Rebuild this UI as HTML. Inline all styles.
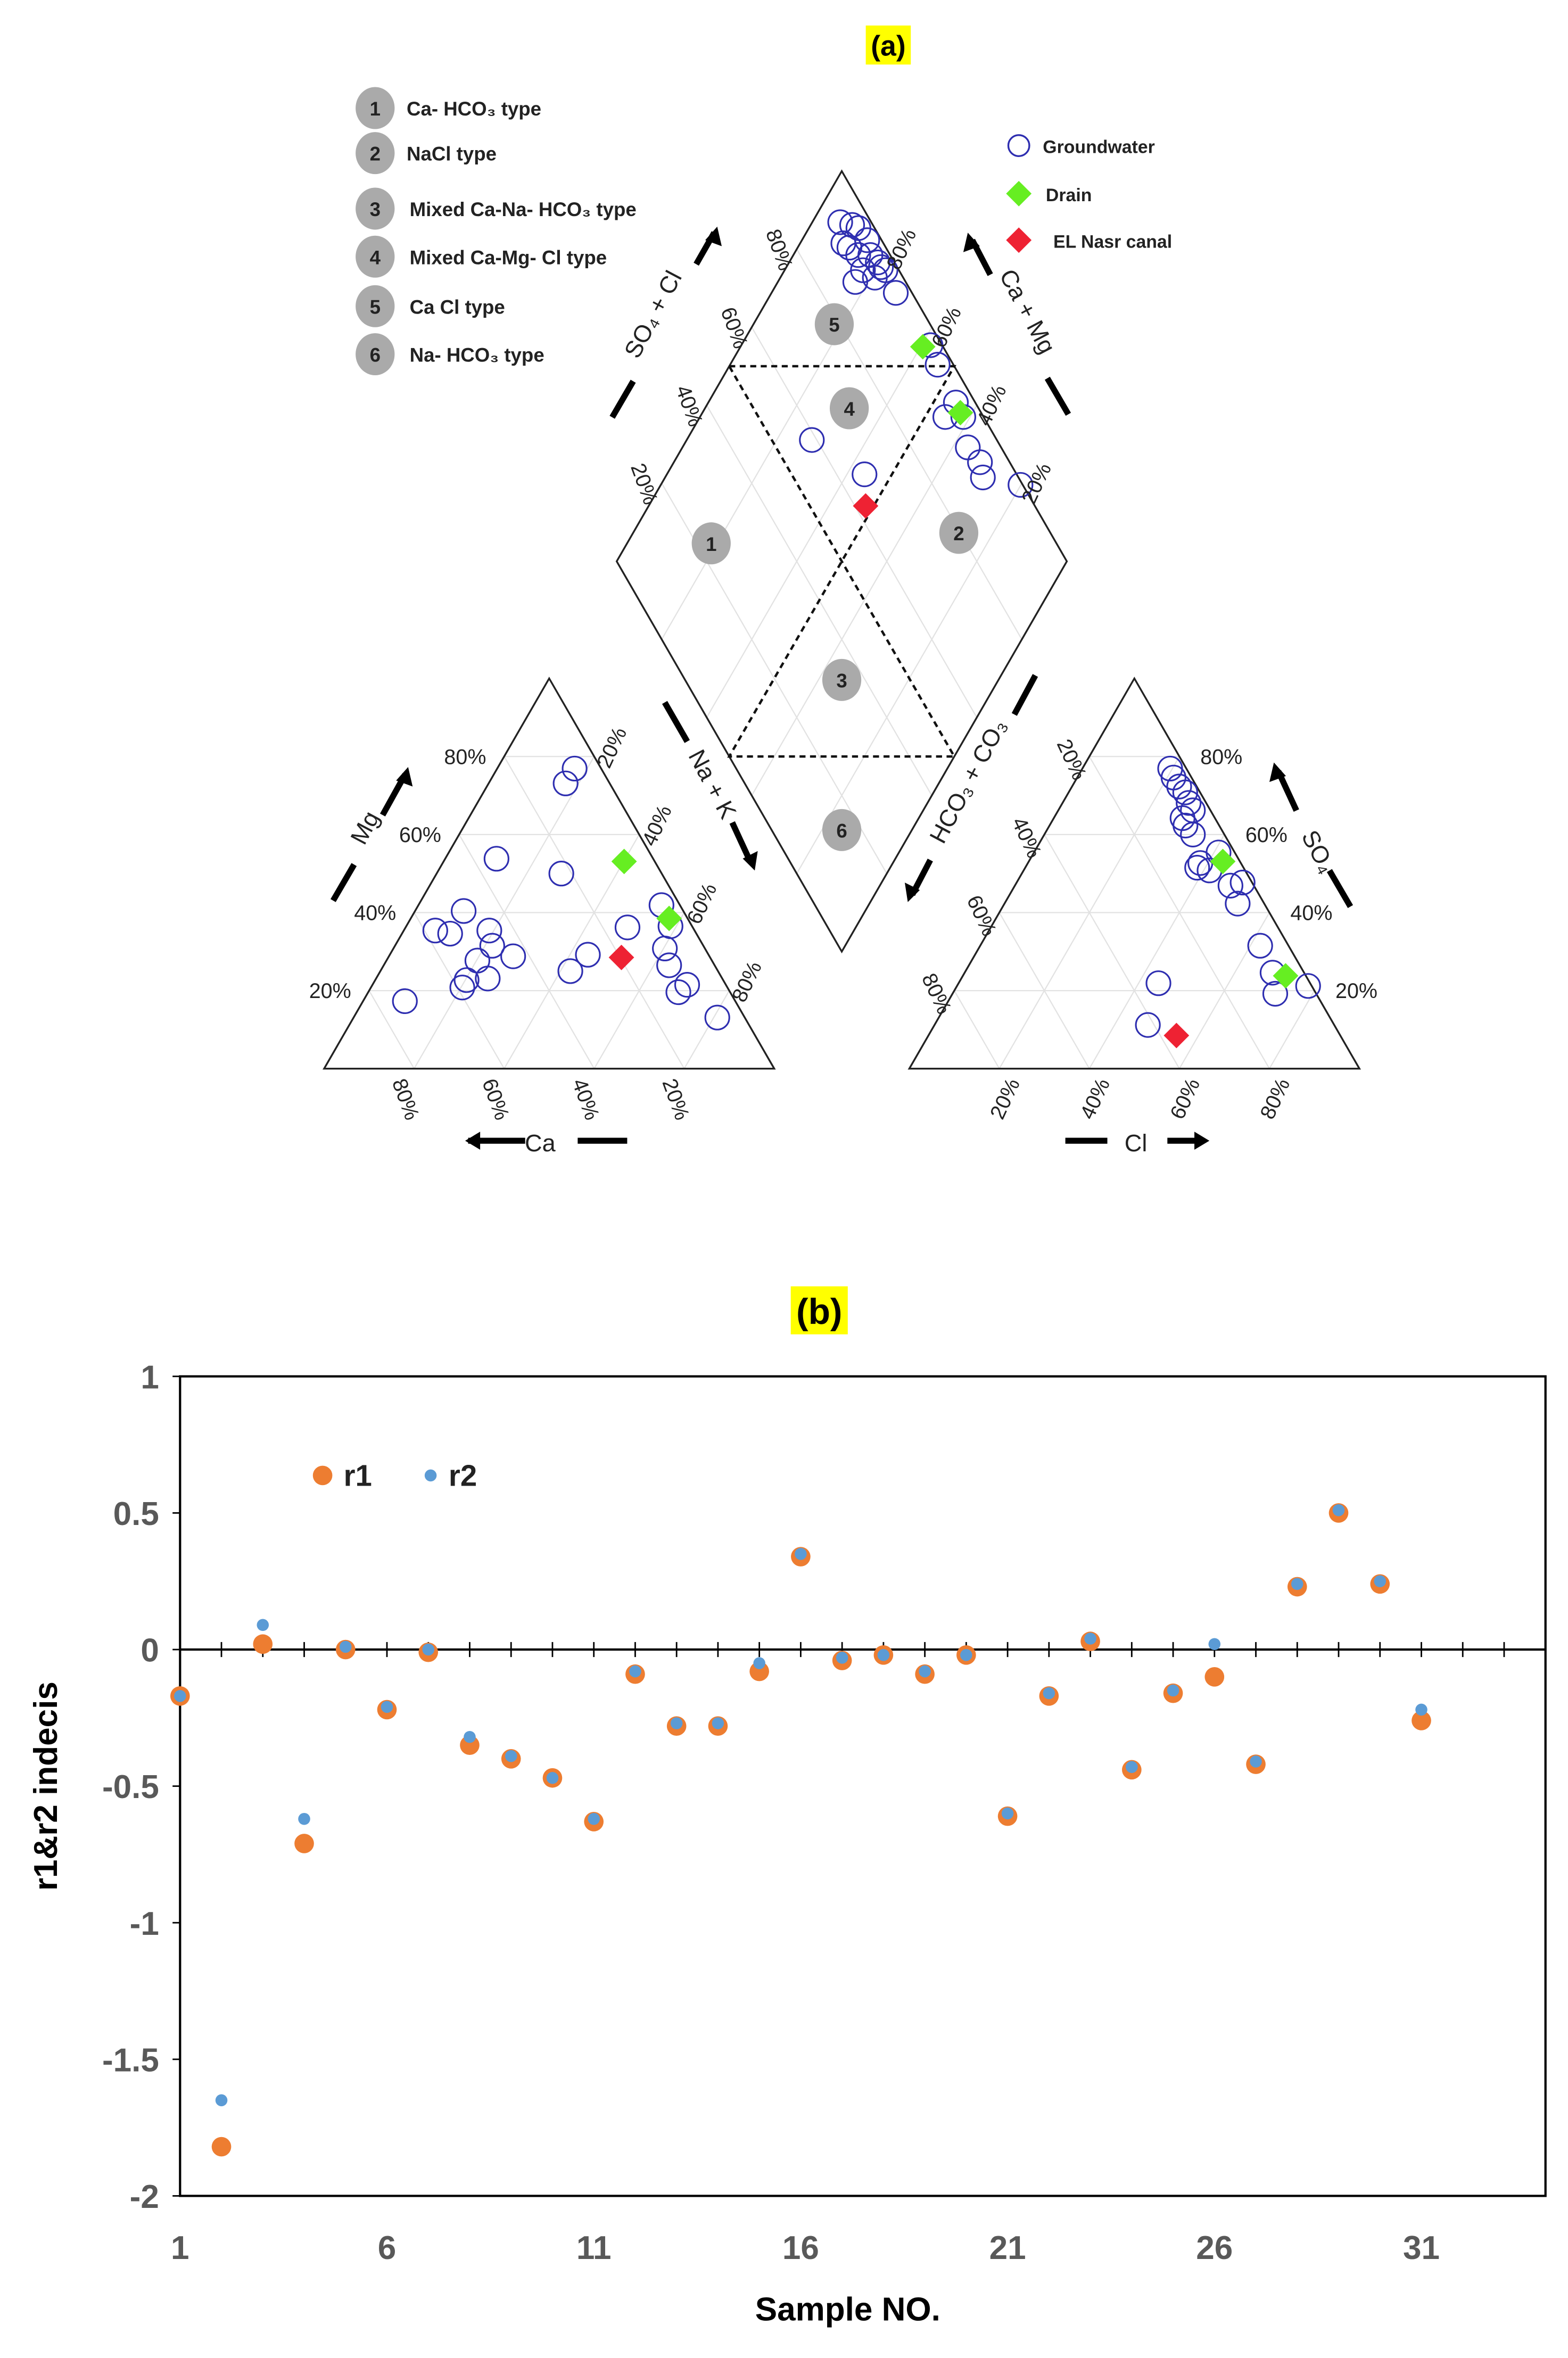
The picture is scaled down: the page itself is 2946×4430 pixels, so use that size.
<!DOCTYPE html>
<html><head><meta charset="utf-8"><style>
html,body{margin:0;padding:0;background:#fff}
svg{display:block}
text{font-family:"Liberation Sans",sans-serif}
</style></head><body>
<svg id="root" width="2946" height="4430" viewBox="0 0 1045 1571" preserveAspectRatio="none" xmlns="http://www.w3.org/2000/svg">
<g id="piper"></g>
<g id="scatter"></g>
</svg>
<script>
// ---------- Piper data ----------
const catNa = [17.2,17.1,11.4,27.7,7,10.8,10.7,19,21.6,27.6,20.2,20.3,24.8,20.3,9.3,42.2,44,49.3,54,58.7,60.3,63.4,69.9,68.9,80.8];
const catMg = [76.9,73.1,53.8,50,35.4,40.4,34.6,35.4,31.5,28.8,27.7,22.7,23.1,20.8,17.3,25,29.2,36.2,41.9,36.5,30.8,26.5,21.5,19.6,13.1];
const anCl = [19.5,21.4,23.8,25.9,28,29.9,28.6,30.2,33,38.3,41.3,38.2,41,47.9,50.2,51.8,62.2,68.4,78,71.7,44.4,47.4];
const anSO4 = [76.9,74.6,72.3,70.8,68.1,66.2,64.2,62.3,60,52.7,50.8,51.5,55.4,46.9,47.7,42.3,31.5,24.6,21.2,19.2,21.9,11.2];
const dNa = [6.2,9.2,11,14.5,11.5,17.1,19.7,17.4,22.4,21,17.2,27.6,21,14.4,9.6,42,46.1,55,58.5,54.5,63.4,68,70.6,79.9,27.8,43.9];
const dA = [93.1,95.4,96.4,96.8,91.9,95.6,96.3,92,97,93.7,88.8,96.4,96.4,92.9,91.1,97.4,96.5,95.7,95.5,91.5,92.6,93.4,92.1,99.5,58.9,66.2];
const drainCatNa=[40.1,57.4], drainCatMg=[53.1,38.5];
const drainAnCl=[43.1,71.7], drainAnSO4=[53.1,23.8];
const drainDNa=[40.5,57.3], drainDA=[95.5,95.4];
const canalCatNa=[51.8], canalCatMg=[28.5];
const canalAnCl=[55.1], canalAnSO4=[8.5];
const canalDNa=[48.2], canalDA=[62.4];
const typeLabels = ["Ca- HCO\u2083 type","NaCl  type","Mixed Ca-Na- HCO\u2083 type","Mixed Ca-Mg- Cl type","Ca Cl type","Na- HCO\u2083 type"];
const pctLabels = ["20%","40%","60%","80%"];
// ---------- Chart (b) data ----------
const sampleNo = [1,2,3,4,5,6,7,8,9,10,11,12,13,14,15,16,17,18,19,20,21,22,23,24,25,26,27,28,29,30,31];
const r1 = [-0.17,-1.82,0.02,-0.71,0.00,-0.22,-0.01,-0.35,-0.40,-0.47,-0.63,-0.09,-0.28,-0.28,-0.08,0.34,-0.04,-0.02,-0.09,-0.02,-0.61,-0.17,0.03,-0.44,-0.16,-0.10,-0.42,0.23,0.50,0.24,-0.26];
const r2 = [-0.17,-1.65,0.09,-0.62,0.01,-0.21,0.00,-0.32,-0.39,-0.47,-0.62,-0.08,-0.27,-0.27,-0.05,0.35,-0.03,-0.02,-0.08,-0.02,-0.60,-0.16,0.04,-0.43,-0.15,0.02,-0.41,0.24,0.51,0.25,-0.22];
const yTicks = [1,0.5,0,-0.5,-1,-1.5,-2];
const xTicks = [1,6,11,16,21,26,31];

const NS="http://www.w3.org/2000/svg";
function mk(parent,tag,attrs,txt){const e=document.createElementNS(NS,tag);for(const k in attrs)e.setAttribute(k,attrs[k]);if(txt!==undefined)e.textContent=txt;parent.appendChild(e);return e;}

const P=document.getElementById('piper');
function catXY(na,mg){return [216+3*na+1.5*mg,712-2.6*mg];}
function anXY(cl,s){return [606+3*cl+1.5*s,712-2.6*s];}
function dXY(na,a){return [411+1.5*(na+a),374+2.6*(na-a)];}

const grid=mk(P,'g',{stroke:'#e2e2e2','stroke-width':0.8,fill:'none'});


for(let i=1;i<5;i++){const f=i*20;
 [[catXY,0],[anXY,1]].forEach(([fn])=>{
  let a=fn(0,f),b=fn(100-f,f); mk(grid,'line',{x1:a[0],y1:a[1],x2:b[0],y2:b[1]});
  a=fn(f,0);b=fn(f,100-f); mk(grid,'line',{x1:a[0],y1:a[1],x2:b[0],y2:b[1]});
  a=fn(0,100-f);b=fn(100-f,0); mk(grid,'line',{x1:a[0],y1:a[1],x2:b[0],y2:b[1]});
 });
 let a=dXY(f,0),b=dXY(f,100); mk(grid,'line',{x1:a[0],y1:a[1],x2:b[0],y2:b[1]});
 a=dXY(0,f);b=dXY(100,f); mk(grid,'line',{x1:a[0],y1:a[1],x2:b[0],y2:b[1]});
}
const ol=mk(P,'g',{stroke:'#222','stroke-width':1.2,fill:'none'});
const t1=mk(ol,'polygon',{points:'216,712 366,452 516,712'});

const t2=mk(ol,'polygon',{points:'606,712 756,452 906,712'});

const dm=mk(ol,'polygon',{points:'411,374 561,114 711,374 561,634'});

const ds=mk(P,'path',{d:'M486,244 L636,244 L486,504 L636,504 Z',stroke:'#111','stroke-width':1.6,'stroke-dasharray':'4,3',fill:'none'});


function badge(x,y,n,name){const g=mk(P,'g',{});
 
 mk(g,'ellipse',{cx:x,cy:y,rx:13,ry:14,fill:'#aaa'});
 mk(g,'text',{x:x,y:y+5,'text-anchor':'middle','font-size':13,'font-weight':'bold',fill:'#222'},n);}
[[556,216,5],[566,272,4],[474,362,1],[639,355,2],[561,453,3],[561,553,6]].forEach(b=>badge(b[0],b[1],b[2],'region-badge-'+b[2]));
const legY=[72,102,139,171,204,236];
typeLabels.forEach((t,i)=>{badge(250,legY[i],i+1,'type-legend-badge-'+(i+1));
 const tx=mk(P,'text',{x:i>=2?273:271,y:legY[i]+5,'font-size':13,'font-weight':'bold',fill:'#222'},t);
 });

const lg=mk(P,'g',{});
mk(lg,'circle',{cx:679,cy:97,r:7,fill:'none',stroke:'#2e2eb0','stroke-width':1.2});
mk(lg,'text',{x:695,y:102,'font-size':12,'font-weight':'bold',fill:'#222'},'Groundwater');
mk(lg,'rect',{x:673,y:123,width:12,height:12,fill:'#66ee22',transform:'rotate(45 679 129)'});
mk(lg,'text',{x:697,y:134,'font-size':12,'font-weight':'bold',fill:'#222'},'Drain');
mk(lg,'rect',{x:673,y:154,width:12,height:12,fill:'#ee2233',transform:'rotate(45 679 160)'});
mk(lg,'text',{x:702,y:165,'font-size':12,'font-weight':'bold',fill:'#222'},'EL Nasr canal');

function circ(xy,name){const c=mk(P,'circle',{cx:xy[0],cy:xy[1],r:8,fill:'none',stroke:'#2e2eb0','stroke-width':1.1});
 }
function diam(xy,col,name){const c=mk(P,'rect',{x:xy[0]-6,y:xy[1]-6,width:12,height:12,fill:col,transform:`rotate(45 ${xy[0]} ${xy[1]})`});
 }
catNa.forEach((v,i)=>circ(catXY(v,catMg[i]),'groundwater-cation-point'));
anCl.forEach((v,i)=>circ(anXY(v,anSO4[i]),'groundwater-anion-point'));
dNa.forEach((v,i)=>circ(dXY(v,dA[i]),'groundwater-diamond-point'));
drainCatNa.forEach((v,i)=>diam(catXY(v,drainCatMg[i]),'#66ee22','drain-cation-point'));
drainAnCl.forEach((v,i)=>diam(anXY(v,drainAnSO4[i]),'#66ee22','drain-anion-point'));
drainDNa.forEach((v,i)=>diam(dXY(v,drainDA[i]),'#66ee22','drain-diamond-point'));
canalCatNa.forEach((v,i)=>diam(catXY(v,canalCatMg[i]),'#ee2233','canal-cation-point'));
canalAnCl.forEach((v,i)=>diam(anXY(v,canalAnSO4[i]),'#ee2233','canal-anion-point'));
canalDNa.forEach((v,i)=>diam(dXY(v,canalDA[i]),'#ee2233','canal-diamond-point'));

function lab(x,y,t,rot,name){const e=mk(P,'text',{x:x,y:y,'font-size':14,fill:'#222','text-anchor':'middle',transform:`rotate(${rot} ${x} ${y})`},t);
 }
pctLabels.forEach((t,i)=>{const f=(i+1)*20;
 let p=catXY(0,f); lab(p[0]-26,p[1]+5,t,0,'mg-tick-label');
 p=catXY(f,100-f); lab(p[0]+16,p[1]-4,t,-65,'na-tick-label');
 p=catXY(100-f,0); lab(p[0]-10,p[1]+22,t,70,'ca-tick-label');
 p=anXY(100-f,f); lab(p[0]+28,p[1]+5,t,0,'so4-tick-label');
 p=anXY(0,100-f); lab(p[0]-16,p[1]+4,t,65,'hco3-tick-label');
 p=anXY(f,0); lab(p[0]+8,p[1]+22,t,-65,'cl-tick-label');
 p=dXY(0,f); lab(p[0]-16,p[1]+2,t,70,'so4cl-tick-label');
 p=dXY(100-f,100); lab(p[0]+14,p[1]+2,t,-65,'camg-tick-label');
});
function axisTitle(x,y,t,rot,name){const e=mk(P,'text',{x:x,y:y,'font-size':16,fill:'#222','text-anchor':'middle',transform:`rotate(${rot} ${x} ${y})`},t);
 }
axisTitle(360,767,'Ca',0,'ca-axis-title');
axisTitle(757,767,'Cl',0,'cl-axis-title');
axisTitle(248,554,'Mg',-62,'mg-axis-title');
axisTitle(470,525,'Na + K',62,'nak-axis-title');
axisTitle(650,523,'HCO\u2083 + CO\u2083',-62,'hco3-axis-title');
axisTitle(874,570,'SO\u2084',62,'so4-axis-title');
axisTitle(440,212,'SO\u2084 + Cl',-62,'so4cl-axis-title');
axisTitle(680,210,'Ca + Mg',62,'camg-axis-title');
const arr=mk(P,'g',{stroke:'#000','stroke-width':4,fill:'#000'});

[[312,760,350,760],[418,760,385,760],[710,760,738,760],[778,760,800,760],
 [222,600,236,576],[255,543,270,516],[443,468,458,494],[488,548,500,574],
 [690,450,676,476],[620,573,608,596],[900,604,886,580],[864,540,852,514],
 [408,278,422,254],[464,176,476,155],[712,276,698,252],[660,183,648,160]].forEach(s=>mk(arr,'line',{x1:s[0],y1:s[1],x2:s[2],y2:s[3]}));
[[310,760,'l'],[806,760,'r'],[272,511,'ul'],[503,580,'dr'],[605,601,'dl'],[849,508,'ul2'],[478,151,'ul'],[645,155,'ur']].forEach(a=>{
 const[x,y,d]=a;let pts;
 if(d=='l')pts=`${x},${y} ${x+10},${y-6} ${x+10},${y+6}`;
 else if(d=='r')pts=`${x},${y} ${x-10},${y-6} ${x-10},${y+6}`;
 else if(d=='ul')pts=`${x},${y} ${x-8},${y+9} ${x+3},${y+13}`;
 else if(d=='ul2'||d=='ur')pts=`${x},${y} ${x+8},${y+9} ${x-3},${y+13}`;
 else if(d=='dr')pts=`${x},${y} ${x+2},${y-13} ${x-8},${y-8}`;
 else pts=`${x},${y} ${x-2},${y-13} ${x+8},${y-8}`;
 mk(arr,'polygon',{points:pts,stroke:'none'});});
const ta=mk(P,'g',{});
mk(ta,'rect',{x:577,y:17,width:30,height:26,fill:'#ffff00'});
mk(ta,'text',{x:592,y:37,'text-anchor':'middle','font-size':19,'font-weight':'bold',fill:'#000'},'(a)');

// ---------- Chart (b) ----------
const S=document.getElementById('scatter');
const X0=120,X1=1030,Y0=917,Y1=1463;
const xMin=1,xMax=34,yMin=-2,yMax=1;
const xs=v=>X0+(v-xMin)/(xMax-xMin)*(X1-X0);
const ys=v=>Y1-(v-yMin)/(yMax-yMin)*(Y1-Y0);
const tb=mk(S,'g',{});
mk(tb,'rect',{x:527,y:857,width:38,height:32,fill:'#ffff00'});
mk(tb,'text',{x:546,y:882,'text-anchor':'middle','font-size':24,'font-weight':'bold',fill:'#000'},'(b)');
const fr=mk(S,'rect',{x:X0,y:Y0,width:X1-X0,height:Y1-Y0,fill:'none',stroke:'#000','stroke-width':1.5});

const zl=mk(S,'line',{x1:X0,y1:ys(0),x2:X1,y2:ys(0),stroke:'#000','stroke-width':1.5});

for(let k=1;k<=xMax;k++){const t=mk(S,'line',{x1:xs(k),y1:ys(0)-5,x2:xs(k),y2:ys(0)+5,stroke:'#000','stroke-width':1});
 }
yTicks.forEach(v=>{const t=mk(S,'text',{x:X0-14,y:ys(v)+8,'text-anchor':'end','font-size':22,'font-weight':'bold',fill:'#595959'},String(v));
 
 const l=mk(S,'line',{x1:X0-5,y1:ys(v),x2:X0,y2:ys(v),stroke:'#000'});
 });
xTicks.forEach(v=>{const t=mk(S,'text',{x:xs(v),y:Y1+42,'text-anchor':'middle','font-size':22,'font-weight':'bold',fill:'#595959'},String(v));
 });
const yt=mk(S,'text',{x:38,y:(Y0+Y1)/2,'text-anchor':'middle','font-size':22,'font-weight':'bold',fill:'#000',transform:`rotate(-90 38 ${(Y0+Y1)/2})`},'r1&r2 indecis');

const xt=mk(S,'text',{x:(X0+X1)/2-10,y:1546,'text-anchor':'middle','font-size':22,'font-weight':'bold',fill:'#000'},'Sample NO.');

sampleNo.forEach((s,i)=>{const c=mk(S,'circle',{cx:xs(s),cy:ys(r1[i]),r:6.5,fill:'#ED7D31'});
 });
sampleNo.forEach((s,i)=>{const c=mk(S,'circle',{cx:xs(s),cy:ys(r2[i]),r:4,fill:'#5B9BD5'});
 });
const lb=mk(S,'g',{});
mk(lb,'circle',{cx:215,cy:983,r:6.5,fill:'#ED7D31'});
mk(lb,'text',{x:229,y:990,'font-size':20,'font-weight':'bold',fill:'#222'},'r1');
mk(lb,'circle',{cx:287,cy:983,r:4,fill:'#5B9BD5'});
mk(lb,'text',{x:299,y:990,'font-size':20,'font-weight':'bold',fill:'#222'},'r2');
</script>
</body></html>
